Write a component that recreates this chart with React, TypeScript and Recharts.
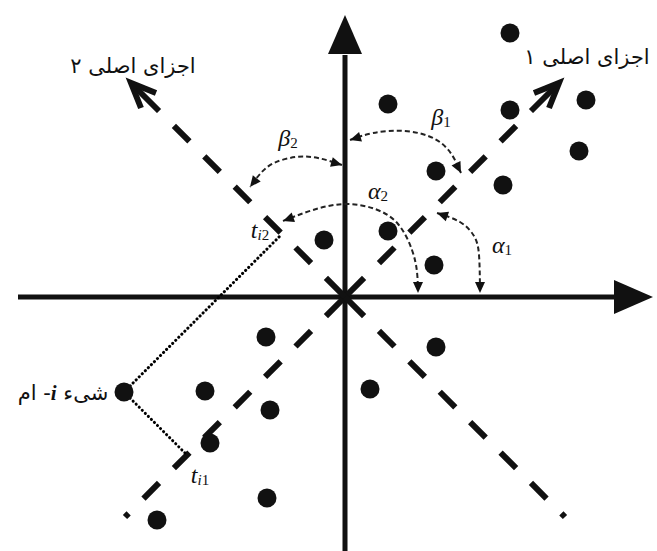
import React from 'react';
import { ComposedChart, XAxis, YAxis, Line, Scatter, ReferenceDot } from 'recharts';

// Data space: origin of the two original axes is (0,0); y grows upward.
const objects = [
  { x: 165, y: 264 }, { x: 43, y: 193 }, { x: 165, y: 187 }, { x: 241, y: 197 },
  { x: 234, y: 146 }, { x: 91, y: 126 }, { x: 158, y: 112 }, { x: 43, y: 66 },
  { x: -21, y: 57 }, { x: 89, y: 32 }, { x: -79, y: -40 }, { x: 91, y: -50 },
  { x: -140, y: -94 }, { x: -221, y: -95 }, { x: -75, y: -113 }, { x: 25, y: -92 },
  { x: -135, y: -146 }, { x: -78, y: -201 }, { x: -188, y: -223 },
];

const horizontalAxis = [{ x: -327, y: 0 }, { x: 272, y: 0 }];
const verticalAxis = [{ x: 0, y: -256 }, { x: 0, y: 242 }];
const axisHeads = [
  { x: 308, y: 0, angle: 0 },
  { x: 0, y: 282, angle: -90 },
];

const pc1Upper = [{ x: 0, y: 0 }, { x: 186, y: 186 }];
const pc1Shaft = [{ x: 186, y: 186 }, { x: 214, y: 214 }];
const pc1Chevron = [{ x: 189, y: 204 }, { x: 214, y: 214 }, { x: 204, y: 189 }];
const pc1Lower = [{ x: 0, y: 0 }, { x: -220, y: -220 }];

const pc2Upper = [{ x: 0, y: 0 }, { x: -186, y: 186 }];
const pc2Shaft = [{ x: -186, y: 186 }, { x: -214, y: 214 }];
const pc2Chevron = [{ x: -189, y: 204 }, { x: -214, y: 214 }, { x: -204, y: 189 }];
const pc2Lower = [{ x: 0, y: 0 }, { x: 220, y: -220 }];

const projectionToPc1 = [{ x: -221, y: -95 }, { x: -158, y: -158 }];
const projectionToPc2 = [{ x: -221, y: -95 }, { x: -63, y: 63 }];

const alpha1Arc = [{ x: 92, y: 84 }, { x: 115, y: 75 }, { x: 129, y: 61 }, { x: 134, y: 42 }, { x: 135, y: 6 }];
const alpha2Arc = [
  { x: -62, y: 76 }, { x: -32, y: 87 }, { x: 0, y: 93 }, { x: 30, y: 88 },
  { x: 53, y: 73 }, { x: 67, y: 47 }, { x: 72, y: 25 }, { x: 73, y: 6 },
];
const beta1Arc = [{ x: 5, y: 157 }, { x: 28, y: 164 }, { x: 60, y: 166 }, { x: 90, y: 158 }, { x: 107, y: 142 }, { x: 116, y: 124 }];
const beta2Arc = [{ x: -3, y: 132 }, { x: -27, y: 139 }, { x: -49, y: 140 }, { x: -71, y: 134 }, { x: -85, y: 123 }, { x: -95, y: 110 }];

const arcHeads = [
  { x: 92, y: 84, angle: 199 }, { x: 135, y: 4, angle: 90 },
  { x: -62, y: 76, angle: 160 }, { x: 73, y: 4, angle: 90 },
  { x: 5, y: 157, angle: 163 }, { x: 116, y: 124, angle: 63 },
  { x: -3, y: 132, angle: 16 }, { x: -95, y: 110, angle: 128 },
];

const persianLabels = [
  { x: -212, y: 231, before: 'اجزای اصلی ۲', italic: '', after: '' },
  { x: 242, y: 240, before: 'اجزای اصلی ۱', italic: '', after: '' },
  { x: -282, y: -96, before: 'شیء ', italic: 'i', after: '- ام' },
];

const mathLabels = [
  { x: -57, y: 159, main: 'β', subItalic: '', sub: '2' },
  { x: 96, y: 180, main: 'β', subItalic: '', sub: '1' },
  { x: 33, y: 106, main: 'α', subItalic: '', sub: '2' },
  { x: 157, y: 52, main: 'α', subItalic: '', sub: '1' },
  { x: -85, y: 67, main: 't', subItalic: 'i', sub: '2' },
  { x: -145, y: -178, main: 't', subItalic: 'i', sub: '1' },
];

const INK = '#111';
const PC_DASH = '27 21 22 21 22 21 22 21 22 21 22 21 22 21 22 21';

const Head = ({ cx, cy, angle, len, half }: any) => {
  const a = (angle * Math.PI) / 180;
  const bx = cx - len * Math.cos(a);
  const by = cy - len * Math.sin(a);
  const px = -Math.sin(a) * half;
  const py = Math.cos(a) * half;
  return <polygon points={`${cx},${cy} ${bx + px},${by + py} ${bx - px},${by - py}`} fill={INK} />;
};

const lineProps = {
  dataKey: 'y',
  dot: false,
  activeDot: false,
  isAnimationActive: false,
  legendType: 'none' as const,
};

export default function App() {
  return (
    <div style={{ position: 'absolute', left: 0, top: 0, width: 657, height: 551, background: '#fff' }}>
      <ComposedChart width={657} height={551} margin={{ top: 0, right: 0, bottom: 0, left: 0 }}>
        <XAxis type="number" dataKey="x" domain={[-345, 312]} allowDataOverflow hide />
        <YAxis type="number" dataKey="y" domain={[-254, 297]} allowDataOverflow hide />

        <Line {...lineProps} data={horizontalAxis} type="linear" stroke={INK} strokeWidth={5} />
        <Line {...lineProps} data={verticalAxis} type="linear" stroke={INK} strokeWidth={5} />

        <Line {...lineProps} data={pc1Upper} type="linear" stroke={INK} strokeWidth={6} strokeDasharray={PC_DASH} />
        <Line {...lineProps} data={pc1Lower} type="linear" stroke={INK} strokeWidth={6} strokeDasharray={PC_DASH} />
        <Line {...lineProps} data={pc1Shaft} type="linear" stroke={INK} strokeWidth={6} />
        <Line {...lineProps} data={pc1Chevron} type="linear" stroke={INK} strokeWidth={6} />
        <Line {...lineProps} data={pc2Upper} type="linear" stroke={INK} strokeWidth={6} strokeDasharray={PC_DASH} />
        <Line {...lineProps} data={pc2Lower} type="linear" stroke={INK} strokeWidth={6} strokeDasharray={PC_DASH} />
        <Line {...lineProps} data={pc2Shaft} type="linear" stroke={INK} strokeWidth={6} />
        <Line {...lineProps} data={pc2Chevron} type="linear" stroke={INK} strokeWidth={6} />

        <Line {...lineProps} data={projectionToPc1} type="linear" stroke="#000" strokeWidth={3} strokeLinecap="round" strokeDasharray="0.1 4.2" />
        <Line {...lineProps} data={projectionToPc2} type="linear" stroke="#000" strokeWidth={3} strokeLinecap="round" strokeDasharray="0.1 4.2" />

        <Line {...lineProps} data={alpha1Arc} type="natural" stroke="#222" strokeWidth={2} strokeDasharray="5 3" />
        <Line {...lineProps} data={alpha2Arc} type="natural" stroke="#222" strokeWidth={2} strokeDasharray="5 3" />
        <Line {...lineProps} data={beta1Arc} type="natural" stroke="#222" strokeWidth={2} strokeDasharray="5 3" />
        <Line {...lineProps} data={beta2Arc} type="natural" stroke="#222" strokeWidth={2} strokeDasharray="5 3" />

        <Scatter
          data={objects}
          dataKey="y"
          isAnimationActive={false}
          legendType="none"
          shape={(p: any) => <circle cx={p.cx} cy={p.cy} r={9.5} fill={INK} />}
        />

        {axisHeads.map((h, i) => (
          <ReferenceDot
            key={`ah${i}`}
            x={h.x}
            y={h.y}
            r={1}
            ifOverflow="visible"
            shape={(p: any) => <Head cx={p.cx} cy={p.cy} angle={h.angle} len={39} half={17} />}
          />
        ))}
        {arcHeads.map((h, i) => (
          <ReferenceDot
            key={`arh${i}`}
            x={h.x}
            y={h.y}
            r={1}
            ifOverflow="visible"
            shape={(p: any) => <Head cx={p.cx} cy={p.cy} angle={h.angle} len={11} half={5} />}
          />
        ))}
        {persianLabels.map((l, i) => (
          <ReferenceDot
            key={`pl${i}`}
            x={l.x}
            y={l.y}
            r={1}
            ifOverflow="visible"
            shape={(p: any) => (
              <text
                x={p.cx}
                y={p.cy}
                textAnchor="middle"
                dominantBaseline="central"
                direction="rtl"
                fontFamily="'DejaVu Sans', sans-serif"
                fontSize={21}
                fill={INK}
              >
                {l.before}
                {l.italic ? (
                  <tspan fontFamily="'Liberation Serif', serif" fontStyle="italic" fontWeight="bold">
                    {l.italic}
                  </tspan>
                ) : null}
                {l.after}
              </text>
            )}
          />
        ))}
        {mathLabels.map((l, i) => (
          <ReferenceDot
            key={`ml${i}`}
            x={l.x}
            y={l.y}
            r={1}
            ifOverflow="visible"
            shape={(p: any) => (
              <text
                x={p.cx}
                y={p.cy}
                textAnchor="middle"
                dominantBaseline="central"
                fontFamily="'Liberation Serif', serif"
                fontSize={24}
                fill={INK}
              >
                <tspan fontStyle="italic">{l.main}</tspan>
                <tspan fontSize={15} dy={5}>
                  {l.subItalic ? <tspan fontStyle="italic">{l.subItalic}</tspan> : null}
                  {l.sub}
                </tspan>
              </text>
            )}
          />
        ))}
      </ComposedChart>
    </div>
  );
}
